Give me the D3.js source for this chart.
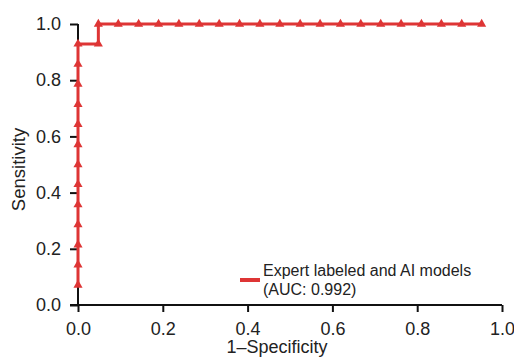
<!DOCTYPE html>
<html>
<head>
<meta charset="utf-8">
<script src="https://cdn.jsdelivr.net/npm/d3@7"></script>
<style>
  body { margin: 0; background: #fff; }
  svg text { font-family: "Liberation Sans", Arial, Helvetica, sans-serif; fill: #222; }
</style>
</head>
<body>
<svg id="chart" width="514" height="363"></svg>
<script>
// ROC points
const fpr = [0, 0, 0, 0, 0, 0, 0, 0, 0, 0, 0, 0, 0,
             0.048, 0.048,
             0.095, 0.143, 0.190, 0.238, 0.286, 0.333, 0.381, 0.429, 0.476, 0.524,
             0.571, 0.619, 0.667, 0.714, 0.762, 0.810, 0.857, 0.905, 0.952];
const tpr = [0.071, 0.143, 0.214, 0.286, 0.357, 0.429, 0.500, 0.571, 0.643, 0.714, 0.786, 0.857, 0.929,
             0.929, 1.0,
             1, 1, 1, 1, 1, 1, 1, 1, 1, 1,
             1, 1, 1, 1, 1, 1, 1, 1, 1];
const xTicks = [0, 0.2, 0.4, 0.6, 0.8, 1.0];
const yTicks = [0, 0.2, 0.4, 0.6, 0.8, 1.0];
const legendLines = ["Expert labeled and AI models", "(AUC: 0.992)"];

const RED = "#de3535";
const svg = d3.select("#chart");

const x = d3.scaleLinear().domain([0, 1]).range([78, 502]);
const y = d3.scaleLinear().domain([0, 1]).range([305, 24]);

// axes
const xAxis = svg.append("g")
    .attr("transform", `translate(0,${y(0)})`)
    .call(d3.axisBottom(x).tickValues(xTicks).tickFormat(d3.format(".1f"))
        .tickSize(7).tickSizeOuter(0).tickPadding(10));
const yAxis = svg.append("g")
    .attr("transform", `translate(${x(0)},0)`)
    .call(d3.axisLeft(y).tickValues(yTicks).tickFormat(d3.format(".1f"))
        .tickSize(8).tickSizeOuter(0).tickPadding(9));

[xAxis, yAxis].forEach(g => {
    g.selectAll("path, line").attr("stroke", "#111").attr("stroke-width", 2);
    g.selectAll("text").attr("font-size", 18).attr("fill", "#222");
});
// x axis line reaches left to the y tick
xAxis.select(".domain").attr("d", `M${x(0) - 8},0H${x(1)}`);
yAxis.select(".domain").attr("d", `M0,${y(1)}V${y(0)}`);

// axis titles
svg.append("text")
    .attr("x", 277).attr("y", 353)
    .attr("text-anchor", "middle")
    .attr("font-size", 18)
    .text("1\u2013Specificity");
svg.append("text")
    .attr("transform", `translate(25,${(y(0) + y(1)) / 2 + 5}) rotate(-90)`)
    .attr("text-anchor", "middle")
    .attr("font-size", 18.5)
    .text("Sensitivity");

// curve
const pts = fpr.map((f, i) => [f, tpr[i]]);
svg.append("path")
    .datum(pts)
    .attr("fill", "none")
    .attr("stroke", RED)
    .attr("stroke-width", 3)
    .attr("d", d3.line().x(d => x(d[0])).y(d => y(d[1])));

svg.append("g").selectAll("path")
    .data(pts)
    .join("path")
    .attr("transform", d => `translate(${x(d[0])},${y(d[1])})`)
    .attr("d", d3.symbol(d3.symbolTriangle, 36))
    .attr("fill", RED);

// legend
svg.append("line")
    .attr("x1", 240).attr("x2", 260)
    .attr("y1", 280).attr("y2", 280)
    .attr("stroke", RED).attr("stroke-width", 4);
svg.append("g").selectAll("text")
    .data(legendLines)
    .join("text")
    .attr("x", 263)
    .attr("y", (d, i) => 276 + i * 19)
    .attr("font-size", 16)
    .text(d => d);
</script>
</body>
</html>
